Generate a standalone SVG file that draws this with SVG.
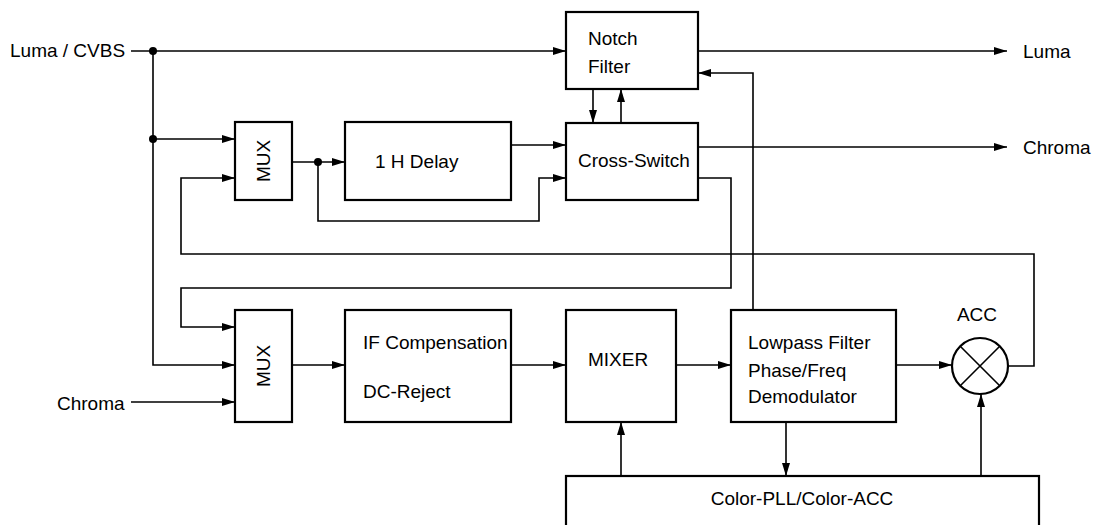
<svg xmlns="http://www.w3.org/2000/svg" width="1093" height="525" viewBox="0 0 1093 525">
<style>
.box{fill:#fff;stroke:#000;stroke-width:2.2}
.ln{fill:none;stroke:#000;stroke-width:1.6}
.ar{marker-end:url(#ah)}
text{font-family:"Liberation Sans",Arial,sans-serif;font-size:19px;fill:#000}
.dot{fill:#000}
</style>
<defs>
<marker id="ah" markerUnits="userSpaceOnUse" markerWidth="13" markerHeight="8" refX="13" refY="4" orient="auto">
<path d="M0,0 L13,4 L0,8 z" fill="#000"/>
</marker>
</defs>
<rect width="1093" height="525" fill="#fff"/>
<g id="connectors">
<polyline class="ln ar" points="131,51 566,51"/>
<polyline class="ln ar" points="153,51 153,365 235,365"/>
<polyline class="ln ar" points="153,139 235,139"/>
<polyline class="ln ar" points="292,162 345,162"/>
<polyline class="ln ar" points="318,162 318,221 539,221 539,178 566,178"/>
<polyline class="ln ar" points="511,145 566,145"/>
<polyline class="ln ar" points="593,89 593,123"/>
<polyline class="ln ar" points="621,123 621,89"/>
<polyline class="ln ar" points="698,51 1007,51"/>
<polyline class="ln ar" points="698,147 1007,147"/>
<polyline class="ln ar" points="698,178 731,178 731,288 181,288 181,327 235,327"/>
<polyline class="ln ar" points="753,310 753,73 698,73"/>
<polyline class="ln ar" points="292,365 345,365"/>
<polyline class="ln ar" points="511,365 566,365"/>
<polyline class="ln ar" points="676,365 731,365"/>
<polyline class="ln ar" points="896,365 952,365"/>
<polyline class="ln ar" points="1008,366 1034,366 1034,254 181,254 181,178 235,178"/>
<polyline class="ln ar" points="131,402 235,402"/>
<polyline class="ln ar" points="786,422 786,476"/>
<polyline class="ln ar" points="621,476 621,422"/>
<polyline class="ln ar" points="981,476 981,394"/>
<circle class="dot" cx="153" cy="51" r="4"/>
<circle class="dot" cx="153" cy="139" r="4"/>
<circle class="dot" cx="318" cy="162" r="4"/>
</g>
<g id="label-luma-cvbs"><text x="10" y="57">Luma / CVBS</text></g>
<g id="label-chroma-in"><text x="57" y="410">Chroma</text></g>
<g id="label-luma-out"><text x="1023" y="58">Luma</text></g>
<g id="label-chroma-out"><text x="1023" y="154">Chroma</text></g>
<g id="notch">
<rect class="box" x="566" y="12" width="132" height="77"/>
<text x="588" y="45">Notch</text>
<text x="588" y="73">Filter</text>
</g>
<g id="mux1">
<rect class="box" x="235" y="122" width="57" height="78"/>
<text transform="translate(270,161) rotate(-90)" text-anchor="middle">MUX</text>
</g>
<g id="delay">
<rect class="box" x="345" y="122" width="166" height="78"/>
<text x="375" y="168">1 H Delay</text>
</g>
<g id="cross-switch">
<rect class="box" x="566" y="123" width="132" height="77"/>
<text x="578" y="167">Cross-Switch</text>
</g>
<g id="mux2">
<rect class="box" x="235" y="310" width="57" height="112"/>
<text transform="translate(270,366) rotate(-90)" text-anchor="middle">MUX</text>
</g>
<g id="if-comp">
<rect class="box" x="345" y="310" width="166" height="112"/>
<text x="363" y="349">IF Compensation</text>
<text x="363" y="398">DC-Reject</text>
</g>
<g id="mixer">
<rect class="box" x="566" y="310" width="110" height="112"/>
<text x="588" y="366">MIXER</text>
</g>
<g id="lowpass">
<rect class="box" x="731" y="310" width="165" height="112"/>
<text x="748" y="349">Lowpass Filter</text>
<text x="748" y="377">Phase/Freq</text>
<text x="748" y="403">Demodulator</text>
</g>
<g id="acc">
<circle cx="980" cy="366" r="28" fill="#fff" stroke="#000" stroke-width="2.2"/>
<path d="M960,346 L1000,386 M1000,346 L960,386" stroke="#000" stroke-width="1.6"/>
<text x="977" y="321" text-anchor="middle">ACC</text>
</g>
<g id="color-pll">
<rect class="box" x="566" y="476" width="473" height="70"/>
<text x="802" y="505" text-anchor="middle">Color-PLL/Color-ACC</text>
</g>
</svg>
